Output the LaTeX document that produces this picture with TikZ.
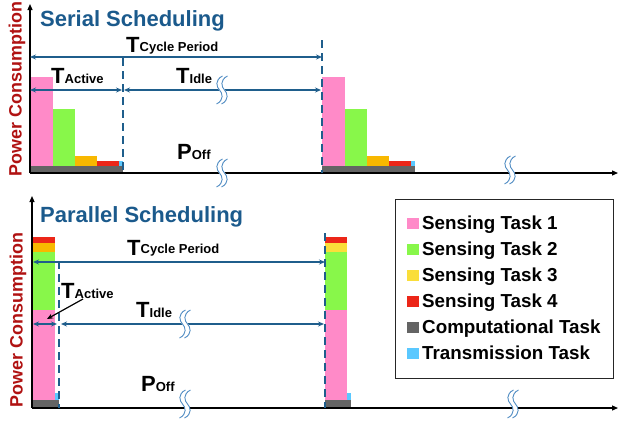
\documentclass[tikz,border=0pt]{standalone}
\usepackage{fontspec}
\setmainfont{Liberation Sans}
\usetikzlibrary{arrows.meta}

\definecolor{pinkT}{RGB}{255,138,200}
\definecolor{greenT}{RGB}{136,247,74}
\definecolor{orangeT}{RGB}{248,184,0}
\definecolor{yellowT}{RGB}{250,222,58}
\definecolor{redT}{RGB}{236,38,24}
\definecolor{grayT}{RGB}{100,100,100}
\definecolor{blueT}{RGB}{90,200,255}
\definecolor{dimblue}{RGB}{31,94,140}
\definecolor{titleblue}{RGB}{27,90,140}
\definecolor{axisred}{RGB}{176,18,18}
\definecolor{breakblue}{RGB}{80,140,195}

% T with a smaller name beside it
\newcommand{\tlbl}[2]{{\fontsize{22}{24}\selectfont\bfseries #1}{\fontsize{13}{15}\selectfont\bfseries #2}}

\tikzset{
  axisline/.style={line width=1.2pt, -{Triangle[length=6pt,width=5pt]}},
  span/.style={dimblue, line width=1.2pt, {Stealth[length=6pt,width=5pt]}-{Stealth[length=6pt,width=5pt]}},
  marker/.style={dimblue, line width=1.4pt, dash pattern=on 8pt off 5pt},
  ttl/.style={font=\fontsize{22}{24}\selectfont\bfseries, text=titleblue, anchor=base west, inner sep=0},
  ylab/.style={font=\fontsize{17.9}{20}\selectfont\bfseries, text=axisred, rotate=90, anchor=base, inner sep=0},
  lbl/.style={anchor=base west, inner sep=0},
  legtxt/.style={font=\fontsize{18.8}{20}\selectfont\bfseries, anchor=base west, inner sep=0},
  brk/.pic={
    \draw[white, line width=5pt] (3,-14) .. controls (-5,-10) and (-3,-3) .. (0,0) .. controls (3,3) and (5,10) .. (-3,14);
    \foreach \dx in {-2.5,2.5}
      \draw[breakblue, line width=0.9pt, xshift=\dx pt] (3,-14) .. controls (-5,-10) and (-3,-3) .. (0,0) .. controls (3,3) and (5,10) .. (-3,14);
  },
}

\begin{document}
\begin{tikzpicture}[x=1pt, y=-1pt]
\useasboundingbox (0,0) rectangle (618,423);

% ---------------- serial scheduling ----------------
\foreach \sx in {0,292} {
  \begin{scope}[xshift=\sx pt]
    \fill[pinkT]   (30,77)   rectangle (52.5,166);
    \fill[greenT]  (52.5,109) rectangle (75,166);
    \fill[orangeT] (75,156)  rectangle (97,166);
    \fill[redT]    (97,161)  rectangle (119,166);
    \fill[blueT]   (119,161) rectangle (123,166);
    \fill[grayT]   (30,166)  rectangle (123,172.5);
  \end{scope}
}

\coordinate (s0) at (30,173);
\coordinate (sy) at (30,4);
\coordinate (sx) at (618,173);
\draw[axisline] (s0) -- (sy);
\draw[axisline] (s0) -- (sx);

\draw[marker] (123,58) -- (123,173);
\draw[marker] (322,40) -- (322,173);

\coordinate (sc1) at (30,57);   \coordinate (sc2) at (322,57);
\coordinate (sa1) at (30,90);   \coordinate (sa2) at (122,90);
\coordinate (si1) at (124,90);  \coordinate (si2) at (321,90);
\draw[span] (sc1) -- (sc2);
\draw[span] (sa1) -- (sa2);
\draw[span] (si1) -- (si2);

\pic at (222,90) {brk};
\pic at (222,173) {brk};
\pic at (510,170) {brk};

\node[ttl] (stitle) at (40,26) {Serial Scheduling};
\node[ylab] (sylab) at (21.5,89) {Power Consumption};
\node[lbl] (scyc) at (126,52.5) {\tlbl{T}{\raisebox{1.5pt}{Cycle Period}}};
\node[lbl] (sact) at (51,83) {\tlbl{T}{Active}};
\node[lbl] (sidl) at (176,83) {\tlbl{T}{Idle}};
\node[lbl] (soff) at (177,159) {\tlbl{P}{Off}};

% ---------------- parallel scheduling ----------------
\foreach \sx/\third in {0/orangeT,292/yellowT} {
  \begin{scope}[xshift=\sx pt]
    \fill[grayT]  (33,400) rectangle (58.5,407.5);
    \fill[pinkT]  (33,310) rectangle (55,400);
    \fill[blueT]  (55,393) rectangle (58.5,400);
    \fill[greenT] (33,252) rectangle (55,310);
    \fill[\third] (33,243) rectangle (55,252);
    \fill[redT]   (33,237) rectangle (55,243);
  \end{scope}
}

\coordinate (p0) at (32,408);
\coordinate (py) at (32,196);
\coordinate (px) at (618,408);
\draw[axisline] (p0) -- (py);
\draw[axisline] (p0) -- (px);

\draw[marker] (59,261) -- (59,408);
\draw[marker] (325,233) -- (325,408);

\coordinate (pc1) at (33,262);  \coordinate (pc2) at (325,262);
\coordinate (pa1) at (33,324);  \coordinate (pa2) at (57,324);
\coordinate (pi1) at (61,324);  \coordinate (pi2) at (324,324);
\draw[span] (pc1) -- (pc2);
\draw[span] (pa1) -- (pa2);
\draw[span] (pi1) -- (pi2);

\pic at (185,324) {brk};
\pic at (185,404) {brk};
\pic at (513,404) {brk};

\node[ttl] (ptitle) at (40,222) {Parallel Scheduling};
\node[ylab] (pylab) at (22.5,320) {Power Consumption};
\node[lbl] (pcyc) at (127,255) {\tlbl{T}{\raisebox{1.5pt}{Cycle Period}}};
\node[lbl] (pact) at (61,298) {\tlbl{T}{Active}};
\node[lbl] (pidl) at (136,317) {\tlbl{T}{Idle}};
\node[lbl] (poff) at (141,391) {\tlbl{P}{Off}};

\coordinate (pptr) at (83,299);
\coordinate (ptip) at (47,319);
\draw[line width=1.2pt, -{Stealth[length=6pt,width=5pt]}] (pptr) -- (ptip);

% ---------------- legend ----------------
\node[draw=black!85, line width=1.2pt, minimum width=218pt, minimum height=179pt, anchor=north west, inner sep=0] (legend) at (395,199) {};
\foreach \c/\t [count=\i] in {pinkT/Sensing Task 1, greenT/Sensing Task 2, yellowT/Sensing Task 3, redT/Sensing Task 4, grayT/Computational Task, blueT/Transmission Task} {
  \pgfmathsetmacro{\by}{229+26*(\i-1)}
  \fill[\c] (407,\by-11) rectangle (419,\by-0.5);
  \node[legtxt] (leg\i) at (422,\by) {\t};
}
\end{tikzpicture}
\end{document}
